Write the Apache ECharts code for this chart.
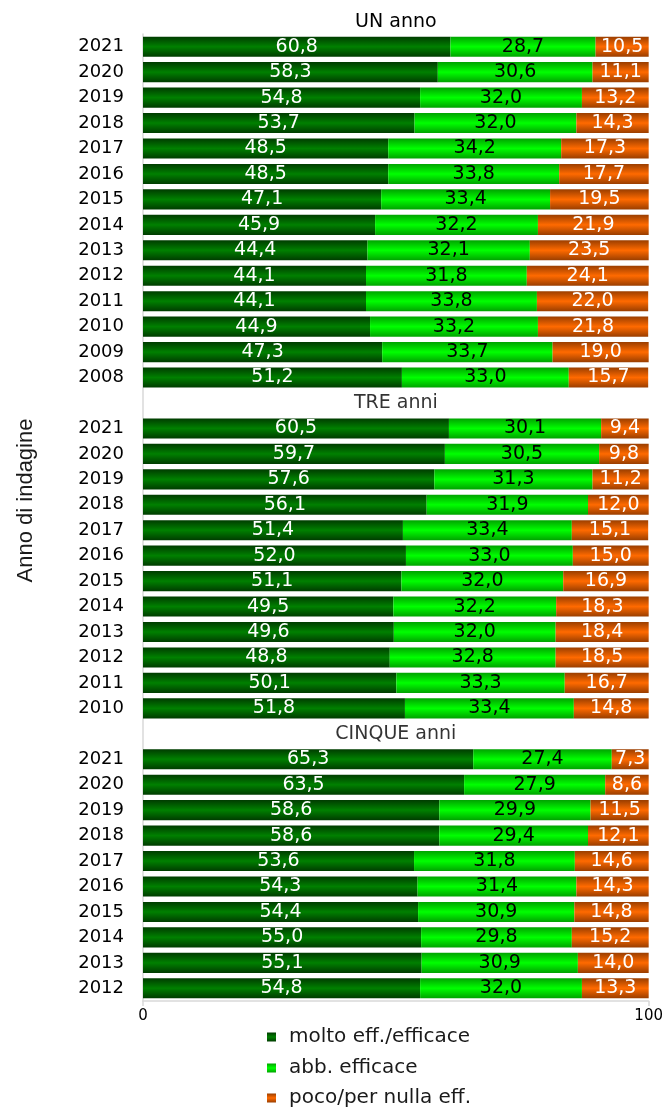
<!DOCTYPE html>
<html>
<head>
<meta charset="utf-8">
<script src="https://cdn.jsdelivr.net/npm/echarts@6/dist/echarts.min.js"></script>
<style>
  html, body { margin: 0; padding: 0; background: #fff; }
  #chart { width: 666px; height: 1109px; }
</style>
</head>
<body>
<div id="chart"></div>
<script>
// Survey years per block (top to bottom)
const yearsUno = ['2021','2020','2019','2018','2017','2016','2015','2014','2013','2012','2011','2010','2009','2008'];
const yearsTre = ['2021','2020','2019','2018','2017','2016','2015','2014','2013','2012','2011','2010'];
const yearsCinque = ['2021','2020','2019','2018','2017','2016','2015','2014','2013','2012'];

// Block headings
const headUno = 'UN anno';
const headTre = 'TRE anni';
const headCinque = 'CINQUE anni';

// Series names
const seriesNames = ['molto eff./efficace', 'abb. efficace', 'poco/per nulla eff.'];

// UN anno
const moltoUno = [60.8, 58.3, 54.8, 53.7, 48.5, 48.5, 47.1, 45.9, 44.4, 44.1, 44.1, 44.9, 47.3, 51.2];
const abbUno   = [28.7, 30.6, 32.0, 32.0, 34.2, 33.8, 33.4, 32.2, 32.1, 31.8, 33.8, 33.2, 33.7, 33.0];
const pocoUno  = [10.5, 11.1, 13.2, 14.3, 17.3, 17.7, 19.5, 21.9, 23.5, 24.1, 22.0, 21.8, 19.0, 15.7];

// TRE anni
const moltoTre = [60.5, 59.7, 57.6, 56.1, 51.4, 52.0, 51.1, 49.5, 49.6, 48.8, 50.1, 51.8];
const abbTre   = [30.1, 30.5, 31.3, 31.9, 33.4, 33.0, 32.0, 32.2, 32.0, 32.8, 33.3, 33.4];
const pocoTre  = [9.4, 9.8, 11.2, 12.0, 15.1, 15.0, 16.9, 18.3, 18.4, 18.5, 16.7, 14.8];

// CINQUE anni
const moltoCinque = [65.3, 63.5, 58.6, 58.6, 53.6, 54.3, 54.4, 55.0, 55.1, 54.8];
const abbCinque   = [27.4, 27.9, 29.9, 29.4, 31.8, 31.4, 30.9, 29.8, 30.9, 32.0];
const pocoCinque  = [7.3, 8.6, 11.5, 12.1, 14.6, 14.3, 14.8, 15.2, 14.0, 13.3];

// x-axis tick labels
const xTicks = [0, 100];

// Build the category list: the first heading sits above the plot,
// the other two occupy their own (empty) rows.
const categories = [];
const headRows = [headTre, headCinque];
yearsUno.forEach((y, i) => categories.push('u' + i));
categories.push(headTre);
yearsTre.forEach((y, i) => categories.push('t' + i));
categories.push(headCinque);
yearsCinque.forEach((y, i) => categories.push('c' + i));

const yearLabel = {};
yearsUno.forEach((y, i) => yearLabel['u' + i] = y);
yearsTre.forEach((y, i) => yearLabel['t' + i] = y);
yearsCinque.forEach((y, i) => yearLabel['c' + i] = y);

function joinBlocks(a, b, c) {
  return [].concat(a, [null], b, [null], c);
}
const molto = joinBlocks(moltoUno, moltoTre, moltoCinque);
const abb = joinBlocks(abbUno, abbTre, abbCinque);
const poco = joinBlocks(pocoUno, pocoTre, pocoCinque);

function grad(edge, mid) {
  return new echarts.graphic.LinearGradient(0, 0, 0, 1, [
    { offset: 0, color: edge },
    { offset: 0.5, color: mid },
    { offset: 1, color: edge }
  ]);
}
const colDark = grad('#003c00', '#008000');
const colLight = grad('#00a300', '#00ff00');
const colOrange = grad('#9a3e00', '#ff6a00');

const FONT = 'DejaVu Sans';
const fmt = p => (p.value == null ? '' : p.value.toFixed(1).replace('.', ','));

function barSeries(name, data, color, textColor) {
  return {
    name: name,
    type: 'bar',
    stack: 'tot',
    data: data,
    barWidth: '79%',
    itemStyle: { color: color },
    label: {
      show: true,
      position: 'inside',
      formatter: fmt,
      color: textColor,
      fontFamily: FONT,
      fontSize: 19
    },
    emphasis: { disabled: true },
    silent: true
  };
}

// One legend entry per row, stacked under the plot
const LEGEND_TOPS = [1027, 1058, 1088];
function legendRow(name, top) {
  return {
    orient: 'vertical',
    left: 267,
    top: top,
    padding: 0,
    itemWidth: 9,
    itemHeight: 9,
    icon: 'rect',
    selectedMode: false,
    data: [name],
    textStyle: {
      color: '#1a1a1a',
      fontFamily: FONT,
      fontSize: 20,
      lineHeight: 20,
      padding: [0, 0, 0, 8]
    }
  };
}

const GRID = { left: 143, right: 16, top: 34, bottom: 108 };

const chart = echarts.init(document.getElementById('chart'), null, { renderer: 'canvas' });
chart.setOption({
  animation: false,
  backgroundColor: '#ffffff',
  grid: GRID,
  xAxis: [{
    type: 'value',
    min: 0,
    max: 100,
    interval: 100,
    position: 'bottom',
    axisLine: { show: true, lineStyle: { color: '#d9d9d9', width: 1.5 } },
    axisTick: { show: true, length: 5, lineStyle: { color: '#d9d9d9', width: 1.5 } },
    splitLine: { show: false },
    axisLabel: {
      color: '#000',
      fontFamily: FONT,
      fontSize: 15,
      margin: 8,
      formatter: v => (xTicks.indexOf(v) >= 0 ? String(v) : '')
    }
  }, {
    type: 'value',
    min: 0,
    max: 100,
    position: 'top',
    name: headUno,
    nameLocation: 'middle',
    nameGap: 2,
    nameTextStyle: { color: '#000', fontFamily: FONT, fontSize: 19 },
    axisLine: { show: false },
    axisTick: { show: false },
    axisLabel: { show: false },
    splitLine: { show: false }
  }],
  yAxis: {
    type: 'category',
    inverse: true,
    data: categories,
    name: 'Anno di indagine',
    nameLocation: 'middle',
    nameGap: 106,
    nameTextStyle: {
      color: '#1a1a1a',
      fontFamily: 'Liberation Sans',
      fontSize: 22,
      padding: [0, 0, 0, 34]
    },
    axisLine: { show: true, lineStyle: { color: '#d9d9d9', width: 1.5 } },
    axisTick: { show: false },
    axisLabel: {
      color: '#000',
      fontFamily: FONT,
      fontSize: 18,
      margin: 19,
      interval: 0,
      formatter: v => yearLabel[v] || ''
    }
  },
  legend: seriesNames.map((n, i) => legendRow(n, LEGEND_TOPS[i])),
  series: [
    barSeries(seriesNames[0], molto, colDark, '#ffffff'),
    barSeries(seriesNames[1], abb, colLight, '#000000'),
    barSeries(seriesNames[2], poco, colOrange, '#ffffff'),
    {
      type: 'scatter',
      symbolSize: 0,
      silent: true,
      data: headRows.map(h => [50, h]),
      label: {
        show: true,
        position: 'inside',
        formatter: p => p.value[1],
        color: '#000',
        fontFamily: FONT,
        fontSize: 19
      }
    }
  ]
});
</script>
</body>
</html>
